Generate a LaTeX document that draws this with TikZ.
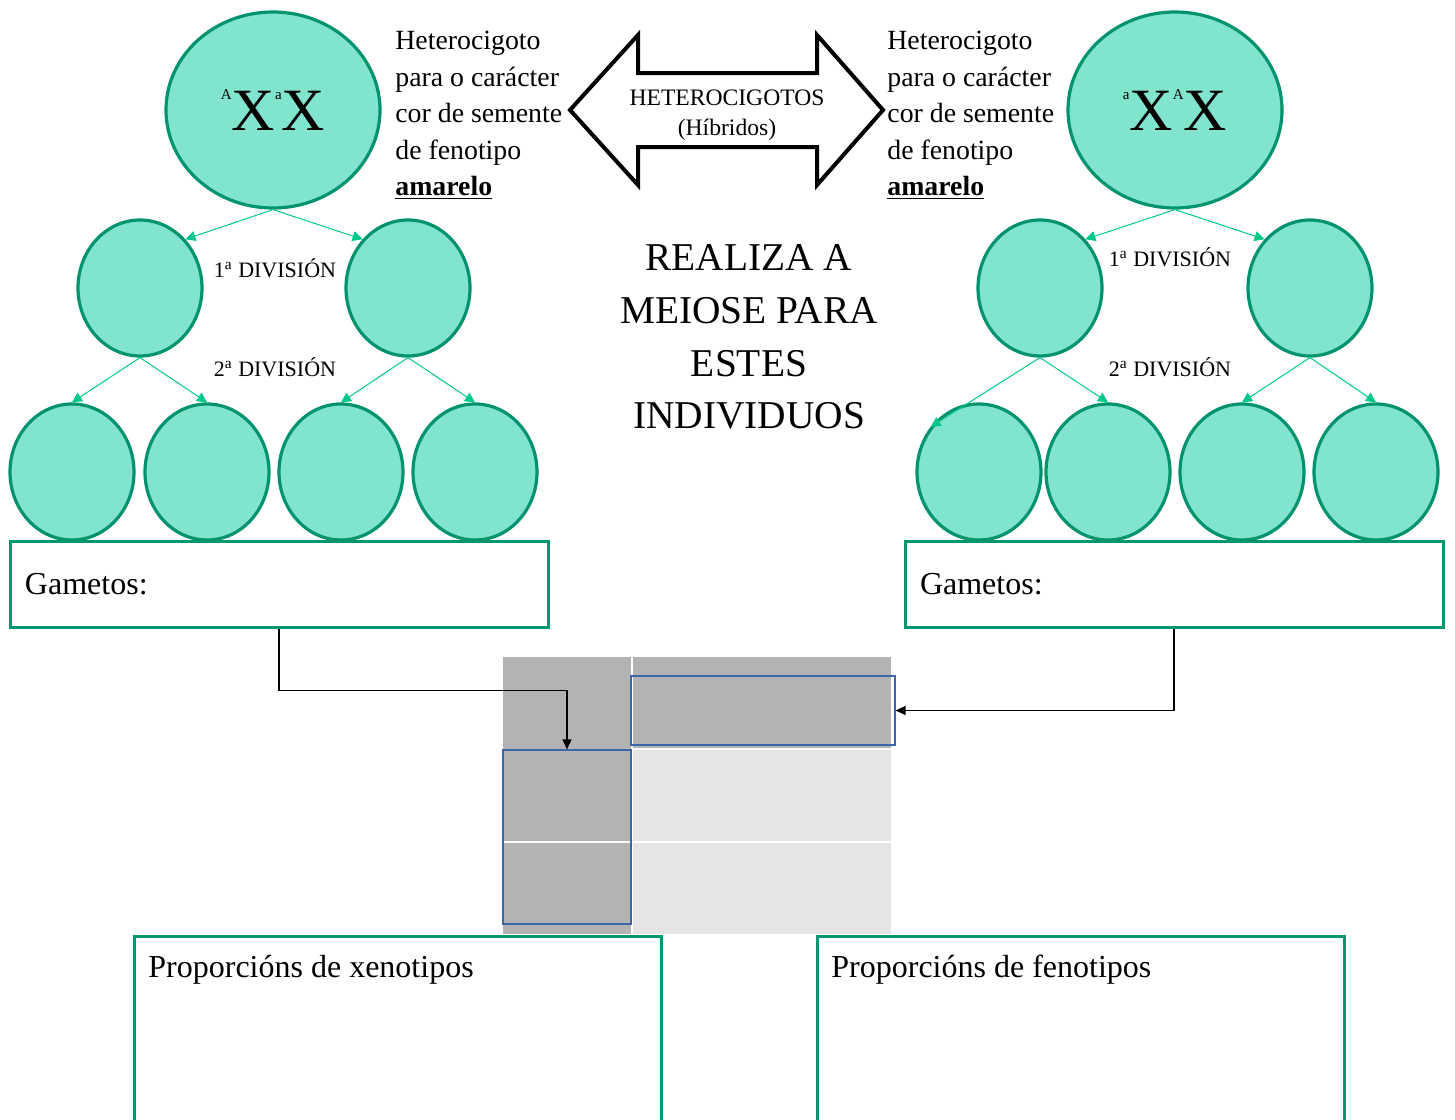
\documentclass[tikz,border=0pt]{standalone}
\usepackage{fontspec}
\setmainfont{Liberation Serif}
\usepackage{xcolor}
\usepackage{tikz}
\usetikzlibrary{positioning,shapes.geometric,arrows.meta,calc}

\definecolor{cellfill}{RGB}{128,228,206}
\definecolor{cellline}{RGB}{0,147,110}
\definecolor{splitcol}{RGB}{0,200,140}
\definecolor{boxline}{RGB}{0,150,112}
\definecolor{rimblue}{RGB}{62,102,166}
\definecolor{darkcell}{RGB}{179,179,179}
\definecolor{lightcell}{RGB}{229,229,229}

\newcommand{\allele}[1]{\raisebox{15.5pt}{\fontsize{7.5}{7.5}\selectfont #1}}

\begin{document}
\begin{tikzpicture}[
    x=0.5pt, y=-0.5pt,
    bigcell/.style={
        ellipse,
        draw=cellline,
        fill=cellfill,
        line width=1.6pt,
        minimum width=107pt,
        minimum height=98pt,
        inner sep=0pt,
        font=\fontsize{30}{30}\selectfont
    },
    cell/.style={
        ellipse,
        draw=cellline,
        fill=cellfill,
        line width=1.6pt,
        minimum width=62pt,
        minimum height=68pt,
        inner sep=0pt
    },
    split/.style={-{Triangle[length=5pt,width=5pt]}, draw=splitcol, line width=0.5pt},
    divlabel/.style={font=\fontsize{11}{13}\selectfont, inner sep=0pt},
    infotext/.style={anchor=north west, align=left, inner sep=0pt, font=\fontsize{13.9}{18.25}\selectfont},
    gambox/.style={
        draw=boxline,
        line width=1.5pt,
        minimum height=43pt,
        text width=254pt,
        inner xsep=7.5pt,
        align=left,
        font=\fontsize{16}{19}\selectfont
    },
    propbox/.style={draw=boxline, line width=1.5pt, minimum width=263.5pt, minimum height=95pt, anchor=north west, inner sep=0pt},
    proptext/.style={anchor=base west, inner sep=0pt, font=\fontsize{16}{19}\selectfont},
    cellrim/.style={draw=rimblue, line width=0.6pt, inner sep=0pt},
    conn/.style={-{Triangle[length=5pt,width=4.5pt]}, line width=0.7pt}
]
\useasboundingbox (0,0) rectangle (1455,1119);

% left individual
\node[bigcell] (parentL) at (273,110) {\allele{A}X\allele{a}X};
\node[infotext] (infoL) at (395,31) {Heterocigoto\\para o carácter\\cor de semente\\de fenotipo\\\underline{\textbf{amarelo}}};

\node[cell] (firstL1) at (140,288) {};
\node[cell] (firstL2) at (408,288) {};
\node[divlabel] (divL1) at (275,268) {1\textsuperscript{a} DIVISIÓN};
\node[divlabel] (divL2) at (275,367) {2\textsuperscript{a} DIVISIÓN};

\node[cell] (gamL1) at (72,472) {};
\node[cell] (gamL2) at (207,472) {};
\node[cell] (gamL3) at (341,472) {};
\node[cell] (gamL4) at (475,472) {};

\draw[split] (parentL.south) -- (firstL1.47);
\draw[split] (parentL.south) -- (firstL2.133);
\draw[split] (firstL1.south) -- (gamL1.north);
\draw[split] (firstL1.south) -- (gamL2.north);
\draw[split] (firstL2.south) -- (gamL3.north);
\draw[split] (firstL2.south) -- (gamL4.north);

\node[gambox] (gametosL) at (279,584) {\raisebox{-1.5pt}{Gametos:}};

% right individual
\node[bigcell] (parentR) at (1175,110) {\allele{a}X\allele{A}X};
\node[infotext] (infoR) at (887,31) {Heterocigoto\\para o carácter\\cor de semente\\de fenotipo\\\underline{\textbf{amarelo}}};

\node[cell] (firstR1) at (1040,288) {};
\node[cell] (firstR2) at (1310,288) {};
\node[divlabel] (divR1) at (1170,257) {1\textsuperscript{a} DIVISIÓN};
\node[divlabel] (divR2) at (1170,367) {2\textsuperscript{a} DIVISIÓN};

\node[cell] (gamR1) at (979,472) {};
\node[cell] (gamR2) at (1108,472) {};
\node[cell] (gamR3) at (1242,472) {};
\node[cell] (gamR4) at (1376,472) {};

\draw[split] (parentR.south) -- (firstR1.47);
\draw[split] (parentR.south) -- (firstR2.133);
\draw[split] (firstR1.south) -- (gamR1.137);
\draw[split] (firstR1.south) -- (gamR2.north);
\draw[split] (firstR2.south) -- (gamR3.north);
\draw[split] (firstR2.south) -- (gamR4.north);

\node[gambox] (gametosR) at (1174,584) {\raisebox{-1.5pt}{Gametos:}};

% double arrow in the middle
\draw[line width=2pt, line join=miter] (570,110) -- (638,35) -- (638,73) -- (817,73) -- (817,35)
    -- (883,110) -- (817,185) -- (817,147) -- (638,147) -- (638,185) -- cycle;
\node[align=center, inner sep=0pt, font=\fontsize{11.8}{15}\selectfont] (hybrid) at (727,115) {HETEROCIGOTOS\\(Híbridos)};

\node[align=center, inner sep=0pt, font=\fontsize{19.7}{26.3}\selectfont] (task) at (749,337) {REALIZA A\\MEIOSE PARA\\ESTES\\INDIVIDUOS};

% Punnett table
\fill[darkcell] (503,657) rectangle (891,748);
\fill[darkcell] (503,748) rectangle (631,934);
\fill[lightcell] (633,750) rectangle (891,934);
\draw[white, line width=0.6pt] (632,657) -- (632,934);
\draw[white, line width=0.6pt] (503,842) -- (891,842);
\draw[white, line width=0.6pt] (633,749) -- (891,749);

\node[cellrim, minimum width=132pt, minimum height=34.5pt] (rowcell) at (763,710.5) {};
\node[cellrim, minimum width=64pt, minimum height=87pt] (colcell) at (567,837) {};

\draw[conn] (gametosL.south) -- ++(0,62) -| (colcell.north);
\draw[conn] (gametosR.south) |- (rowcell.east);

% proportions
\node[propbox] (xenobox) at (133,935) {};
\node[proptext] (xenotext) at (148,977) {Proporcións de xenotipos};
\node[propbox] (fenobox) at (816,935) {};
\node[proptext] (fenotext) at (831,977) {Proporcións de fenotipos};

\end{tikzpicture}
\end{document}
